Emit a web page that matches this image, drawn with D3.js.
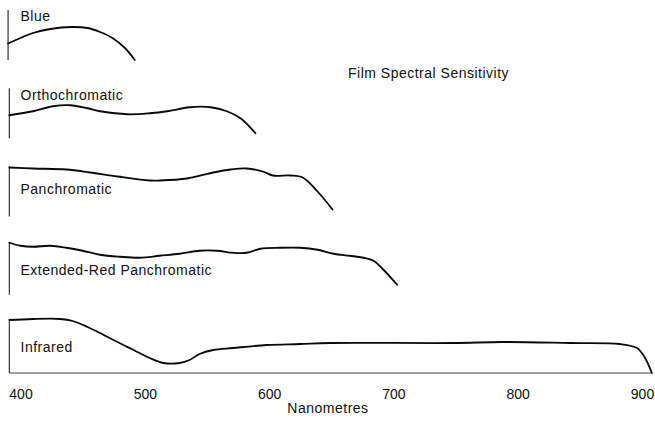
<!DOCTYPE html>
<html>
<head>
<meta charset="utf-8">
<script src="https://cdn.jsdelivr.net/npm/d3@7"></script>
<style>
  html, body { margin: 0; padding: 0; background: #fff; }
  svg { display: block; }
  text { font-family: "Liberation Sans", Arial, Helvetica, sans-serif; fill: #111; }
</style>
</head>
<body>
<svg id="chart" width="655" height="422"></svg>
<script>
// ---- Data (wavelength in nm, relative sensitivity 0-100) ----
const seriesNames = ["Blue", "Orthochromatic", "Panchromatic", "Extended-Red Panchromatic", "Infrared"];

const blueNm   = [390, 400, 410, 424, 441, 454, 464, 474, 484, 492];
const blueVal  = [33, 44, 54, 62, 66, 64, 56, 44, 24, 0];

const orthoNm  = [391, 410, 426, 440, 454, 464, 486, 504, 518, 536, 553, 566, 577, 589];
const orthoVal = [46, 54, 64, 66, 60, 54, 48, 50, 54, 62, 62, 54, 40, 10];

const panNm    = [391, 410, 437, 456, 478, 504, 512, 534, 555, 569, 582, 595, 603, 617, 627, 639, 651];
const panVal   = [98, 96, 94, 88, 80, 72, 72, 76, 88, 94, 96, 90, 82, 82, 78, 50, 14];

const extNm    = [391, 400, 410, 424, 437, 450, 464, 480, 496, 512, 528, 544, 558, 571, 582, 593, 609, 625, 639, 652, 665, 676, 684, 692, 703];
const extVal   = [104, 98, 96, 98, 94, 88, 80, 76, 74, 78, 82, 88, 88, 84, 84, 92, 94, 94, 90, 82, 78, 74, 68, 50, 20];

const irNm     = [391, 410, 432, 442, 454, 464, 478, 491, 504, 515, 528, 536, 544, 555, 571, 598, 625, 649, 748, 788, 842, 882, 896, 902, 908];
const irVal    = [106, 108, 108, 104, 92, 80, 62, 46, 30, 20, 20, 26, 38, 46, 50, 56, 58, 60, 60, 62, 60, 58, 50, 32, 0];

const xTicks = [400, 500, 600, 700, 800, 900];
const titleText = "Film Spectral Sensitivity";
const xLabel = "Nanometres";

const seriesNm  = [blueNm, orthoNm, panNm, extNm, irNm];
const seriesVal = [blueVal, orthoVal, panVal, extVal, irVal];

// ---- Scales ----
const svg = d3.select("#chart");
const x = d3.scaleLinear().domain([400, 900]).range([20.5, 642]);
const band = d3.scalePoint().domain(seriesNames).range([60, 373]);   // panel baselines
const h = d3.scaleLinear().domain([0, 100]).range([0, 50]);          // value -> height (px)

const line = d3.line()
  .x(d => x(d[0]))
  .y(d => d[2] - h(d[1]))
  .curve(d3.curveCatmullRom.alpha(0.5));

seriesNames.forEach((name, i) => {
  const base = band(name);
  const pts = seriesNm[i].map((nm, j) => [nm, seriesVal[i][j], base]);
  const g = svg.append("g");

  // left vertical reference line
  const top = Math.max(100, seriesVal[i][0]);
  g.append("line")
    .attr("x1", x(seriesNm[i][0])).attr("x2", x(seriesNm[i][0]))
    .attr("y1", base - h(top)).attr("y2", base)
    .attr("stroke", "#222").attr("stroke-width", 1.1);

  // baseline for the infrared panel
  if (i === seriesNames.length - 1) {
    g.append("line")
      .attr("x1", x(seriesNm[i][0])).attr("x2", x(d3.max(seriesNm[i])))
      .attr("y1", base).attr("y2", base)
      .attr("stroke", "#444").attr("stroke-width", 1.1);
  }

  g.append("path")
    .datum(pts)
    .attr("d", line)
    .attr("fill", "none")
    .attr("stroke", "#0a0a0a")
    .attr("stroke-width", 1.8)
    .attr("stroke-linejoin", "round")
    .attr("stroke-linecap", "round");
});

// ---- Series labels ----
const labelOffsets = { "Blue": -39, "Orthochromatic": -38.5, "Panchromatic": -23, "Extended-Red Panchromatic": -20, "Infrared": -21 };
seriesNames.forEach(name => {
  svg.append("text")
    .attr("x", x(400))
    .attr("y", band(name) + labelOffsets[name])
    .attr("font-size", 14)
    .attr("letter-spacing", 0.5)
    .text(name);
});

// ---- Title ----
svg.append("text")
  .attr("x", 348).attr("y", 78)
  .attr("font-size", 14)
  .attr("letter-spacing", 0.5)
  .text(titleText);

// ---- X axis ----
const axis = d3.axisBottom(x).tickValues(xTicks).tickSize(0).tickPadding(0).tickFormat(d3.format("d"));
const ax = svg.append("g").attr("transform", "translate(0,389)").call(axis);
ax.select(".domain").remove();
ax.selectAll("text")
  .attr("font-size", 14)
  .attr("font-family", "'Liberation Sans', Arial, sans-serif")
  .attr("fill", "#111");

svg.append("text")
  .attr("x", 328).attr("y", 413)
  .attr("text-anchor", "middle")
  .attr("font-size", 14)
  .attr("letter-spacing", 0.5)
  .text(xLabel);
</script>
</body>
</html>
